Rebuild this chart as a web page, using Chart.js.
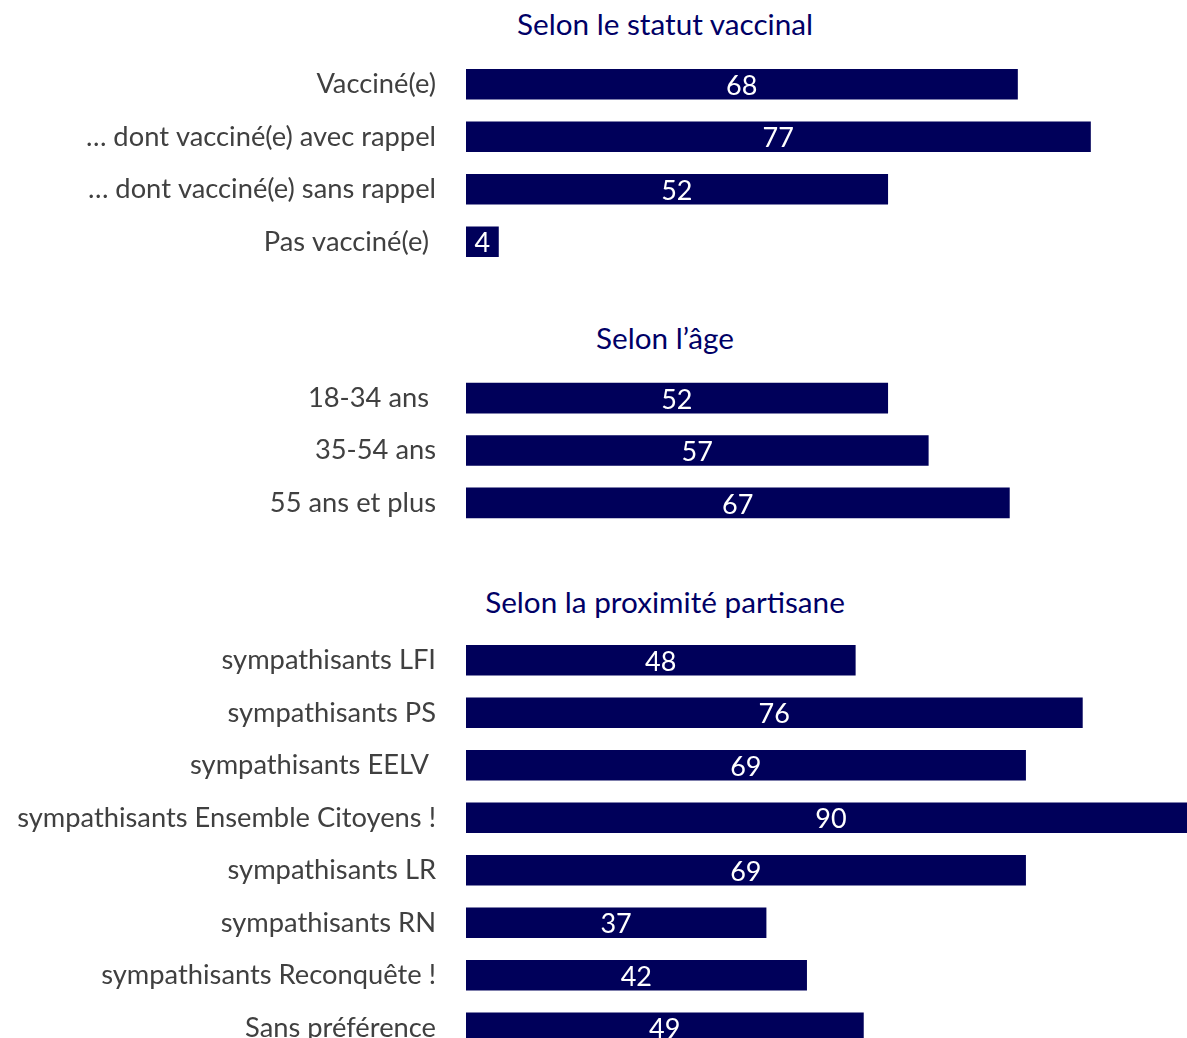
<!DOCTYPE html>
<html>
<head>
<meta charset="utf-8">
<script src="https://cdn.jsdelivr.net/npm/chart.js@4.4.1/dist/chart.umd.min.js"></script>
<style>
  html, body { margin: 0; padding: 0; background: #fff; overflow: hidden; }
  body { width: 1187px; height: 1038px; position: relative; font-family: Lato, "Open Sans", sans-serif; }
  .title { position: absolute; left: 0; width: 1330px; text-align: center; color: #000066; font-size: 29.7px; line-height: 34px; }
  canvas { position: absolute; left: 0; }
</style>
</head>
<body>
<div class="title" style="top:7px">Selon le statut vaccinal</div>
<canvas id="vaccinChart" width="1187" height="210" style="top:58px"></canvas>

<div class="title" style="top:321px">Selon l’âge</div>
<canvas id="ageChart" width="1187" height="157" style="top:372px"></canvas>

<div class="title" style="top:585px">Selon la proximité partisane</div>
<canvas id="partiChart" width="1187" height="420" style="top:634px"></canvas>

<script>
// Data
const vaccinLabels = ['Vacciné(e)', '… dont vacciné(e) avec rappel', '… dont vacciné(e) sans rappel', 'Pas vacciné(e) '];
const vaccinValues = [68, 77, 52, 4];

const ageLabels = ['18-34 ans ', '35-54 ans', '55 ans et plus'];
const ageValues = [52, 57, 67];

const partiLabels = [
  'sympathisants LFI',
  'sympathisants PS',
  'sympathisants EELV ',
  'sympathisants Ensemble Citoyens !',
  'sympathisants LR',
  'sympathisants RN',
  'sympathisants Reconquête !',
  'Sans préférence'
];
const partiValues = [48, 76, 69, 90, 69, 37, 42, 49];

const BAR_COLOR = '#00005a';
const FONT = 'Lato, "Open Sans", sans-serif';

// Value labels in the middle of each bar
const valueLabels = {
  id: 'valueLabels',
  afterDatasetsDraw(chart) {
    const ctx = chart.ctx;
    ctx.save();
    ctx.fillStyle = '#ffffff';
    ctx.font = `27px ${FONT}`;
    ctx.textAlign = 'center';
    ctx.textBaseline = 'middle';
    chart.getDatasetMeta(0).data.forEach((bar, i) => {
      const v = chart.data.datasets[0].data[i];
      ctx.fillText(String(v), (bar.x + bar.base) / 2, bar.y + 2);
    });
    ctx.restore();
  }
};

function makeChart(id, labels, values) {
  const ctx = document.getElementById(id).getContext('2d');
  return new Chart(ctx, {
    type: 'bar',
    data: {
      labels: labels,
      datasets: [{
        data: values,
        backgroundColor: BAR_COLOR,
        barThickness: 30
      }]
    },
    options: {
      indexAxis: 'y',
      responsive: false,
      animation: false,
      layout: { padding: 0 },
      plugins: { legend: { display: false }, tooltip: { enabled: false } },
      scales: {
        x: { display: false, min: 0, max: 88.9 },
        y: {
          grid: { display: false, drawTicks: false },
          border: { display: false },
          ticks: {
            color: '#404040',
            padding: 30,
            font: { family: FONT, size: 27.3 }
          },
          afterFit: scale => {
            scale.width = 466;
            scale.paddingTop = 0;
            scale.paddingBottom = 0;
          }
        }
      }
    },
    plugins: [valueLabels]
  });
}

makeChart('vaccinChart', vaccinLabels, vaccinValues);
makeChart('ageChart', ageLabels, ageValues);
makeChart('partiChart', partiLabels, partiValues);
</script>
</body>
</html>
